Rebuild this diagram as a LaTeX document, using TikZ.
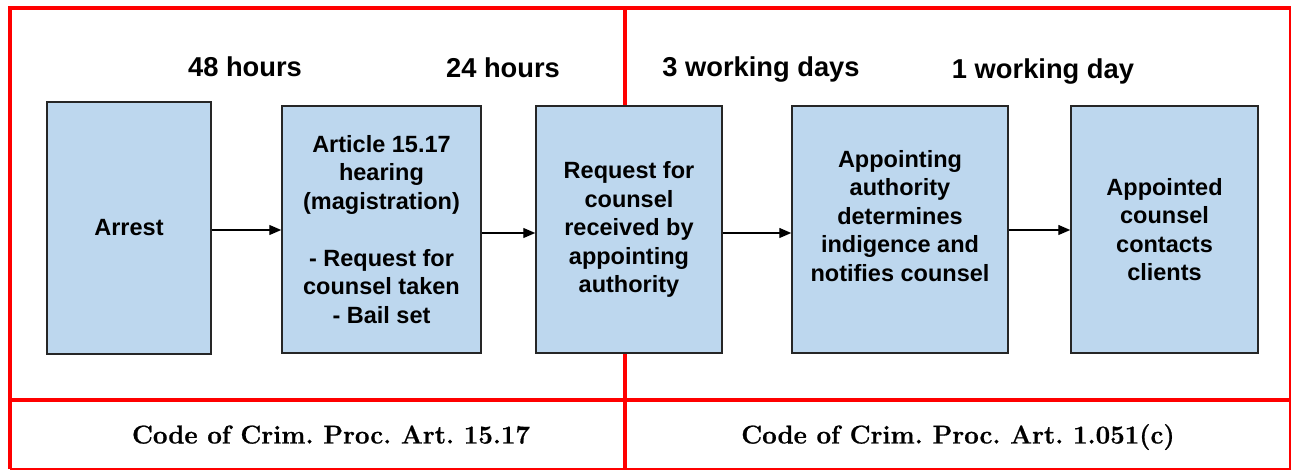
\documentclass[tikz,border=0pt]{standalone}
\usepackage{fontspec}
\newfontfamily\arialb{Liberation Sans}
\newfontfamily\codefont{Latin Modern Roman}[BoldFeatures={FakeBold=0.8}]
\newcommand\mycodestyle{\codefont\fontsize{25.8}{30}\selectfont\bfseries\frenchspacing}
\usetikzlibrary{arrows.meta}
\definecolor{boxblue}{HTML}{BDD7EE}
\begin{document}
\begin{tikzpicture}[x=1pt,y=-1pt,
  stepbox/.style={draw=black!85,line width=1.5pt,fill=boxblue,align=center,
    font=\arialb\bfseries\fontsize{23.5}{28.5}\selectfont,inner sep=0pt},
  stepfont/.style={font=\arialb\bfseries\fontsize{23.5}{28.5}\selectfont},
  timelbl/.style={font=\arialb\bfseries\fontsize{27.3}{30}\selectfont,inner sep=0pt,anchor=base},
  codelbl/.style={font=\mycodestyle,inner sep=0pt,anchor=base},
  frame/.style={draw=red,line width=4pt},
  thinframe/.style={draw=red,line width=1.5pt},
  flow/.style={-{Triangle[length=12pt,width=10pt]},line width=1.3pt}]
\useasboundingbox (0,0) rectangle (1291,470);
% red frame
\draw[thinframe] (1290,8) -- (1290,469) -- (10,469);
\draw[frame] (10,469) -- (10,8) -- (1291,8);
\draw[frame] (625,8) -- (625,469);
\draw[frame] (10,400) -- (1291,400);
% boxes
\node[stepbox,minimum width=164pt,minimum height=252pt] (arrest) at (129,228) {Arrest};
\node[stepbox,minimum width=199pt,minimum height=247pt] (hearing) at (381.5,229.5)
  {Article 15.17\\hearing\\(magistration)\\[28.5pt]- Request for\\counsel taken\\- Bail set};
\node[stepbox,minimum width=186pt,minimum height=247pt] (request) at (629,229.5)
  {Request for\\counsel\\received by\\appointing\\authority};
\node[stepbox,minimum width=216pt,minimum height=247pt] (indig) at (900,229.5) {};
\node[stepfont,align=center,inner sep=0pt] (indigtxt) at (900,216)
  {Appointing\\authority\\determines\\indigence and\\notifies counsel};
\node[stepbox,minimum width=187pt,minimum height=247pt] (contact) at (1164.5,229.5)
  {Appointed\\counsel\\contacts\\clients};
% arrows
\draw[flow] (arrest.east |- 0,230) -- (hearing.west |- 0,230);
\draw[flow] (hearing.east |- 0,233) -- (request.west |- 0,233);
\draw[flow] (request.east |- 0,233) -- (indig.west |- 0,233);
\draw[flow] (indig.east |- 0,230) -- (contact.west |- 0,230);
% time labels
\node[timelbl] (t1) at (245,77) {48 hours};
\node[timelbl] (t2) at (503,78) {24 hours};
\node[timelbl] (t3) at (761,77) {3 working days};
\node[timelbl] (t4) at (1043,79) {1 working day};
% code labels
\node[codelbl] (c1) at (331,443.5) {Code of Crim. Proc. Art. 15.17};
\node[codelbl] (c2) at (958,443.5) {Code of Crim. Proc. Art. 1.051(c)};
\end{tikzpicture}
\end{document}
